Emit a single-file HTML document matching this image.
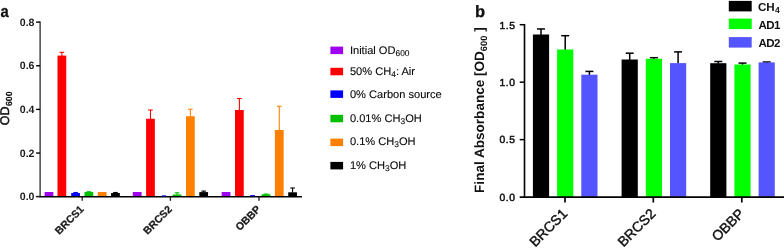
<!DOCTYPE html>
<html>
<head>
<meta charset="utf-8">
<title>Figure</title>
<style>
html,body{margin:0;padding:0;background:#ffffff;}
body{width:784px;height:249px;overflow:hidden;font-family:"Liberation Sans", sans-serif;}
svg{display:block;will-change:transform;}
svg text{font-family:"Liberation Sans", sans-serif;text-rendering:geometricPrecision;}
</style>
</head>
<body>
<svg width="784" height="249" viewBox="0 0 784 249">
<rect x="0" y="0" width="784" height="249" fill="#ffffff"/>
<rect x="44.60" y="192.00" width="8.75" height="4.60" fill="#a000f0"/>
<line x1="61.88" y1="56.10" x2="61.88" y2="52.30" stroke="#ff0000" stroke-width="1.1"/>
<line x1="59.58" y1="52.30" x2="64.17" y2="52.30" stroke="#ff0000" stroke-width="1.1"/>
<rect x="57.50" y="55.60" width="8.75" height="141.00" fill="#ff0000"/>
<line x1="75.58" y1="193.50" x2="75.58" y2="192.50" stroke="#0000ff" stroke-width="1.1"/>
<line x1="73.28" y1="192.50" x2="77.88" y2="192.50" stroke="#0000ff" stroke-width="1.1"/>
<rect x="71.20" y="193.00" width="8.75" height="3.60" fill="#0000ff"/>
<line x1="88.88" y1="192.50" x2="88.88" y2="191.70" stroke="#00c000" stroke-width="1.1"/>
<line x1="86.58" y1="191.70" x2="91.17" y2="191.70" stroke="#00c000" stroke-width="1.1"/>
<rect x="84.50" y="192.00" width="8.75" height="4.60" fill="#00c000"/>
<rect x="97.80" y="192.00" width="8.75" height="4.60" fill="#ff8000"/>
<line x1="115.47" y1="193.50" x2="115.47" y2="192.50" stroke="#000000" stroke-width="1.1"/>
<line x1="113.17" y1="192.50" x2="117.77" y2="192.50" stroke="#000000" stroke-width="1.1"/>
<rect x="111.10" y="193.00" width="8.75" height="3.60" fill="#000000"/>
<rect x="132.80" y="192.00" width="8.75" height="4.60" fill="#a000f0"/>
<line x1="150.48" y1="119.25" x2="150.48" y2="110.00" stroke="#ff0000" stroke-width="1.1"/>
<line x1="148.18" y1="110.00" x2="152.78" y2="110.00" stroke="#ff0000" stroke-width="1.1"/>
<rect x="146.10" y="118.75" width="8.75" height="77.85" fill="#ff0000"/>
<rect x="159.40" y="196.40" width="8.75" height="0.20" fill="#0000ff"/>
<line x1="177.08" y1="195.00" x2="177.08" y2="192.80" stroke="#00c000" stroke-width="1.1"/>
<line x1="174.78" y1="192.80" x2="179.38" y2="192.80" stroke="#00c000" stroke-width="1.1"/>
<rect x="172.70" y="194.50" width="8.75" height="2.10" fill="#00c000"/>
<line x1="190.38" y1="116.75" x2="190.38" y2="109.25" stroke="#ff8000" stroke-width="1.1"/>
<line x1="188.07" y1="109.25" x2="192.68" y2="109.25" stroke="#ff8000" stroke-width="1.1"/>
<rect x="186.00" y="116.25" width="8.75" height="80.35" fill="#ff8000"/>
<line x1="203.68" y1="192.60" x2="203.68" y2="191.10" stroke="#000000" stroke-width="1.1"/>
<line x1="201.38" y1="191.10" x2="205.98" y2="191.10" stroke="#000000" stroke-width="1.1"/>
<rect x="199.30" y="192.10" width="8.75" height="4.50" fill="#000000"/>
<rect x="221.70" y="192.00" width="8.75" height="4.60" fill="#a000f0"/>
<line x1="239.38" y1="110.50" x2="239.38" y2="98.50" stroke="#ff0000" stroke-width="1.1"/>
<line x1="237.07" y1="98.50" x2="241.68" y2="98.50" stroke="#ff0000" stroke-width="1.1"/>
<rect x="235.00" y="110.00" width="8.75" height="86.60" fill="#ff0000"/>
<rect x="248.30" y="196.40" width="8.75" height="0.20" fill="#0000ff"/>
<line x1="265.98" y1="194.80" x2="265.98" y2="194.00" stroke="#00c000" stroke-width="1.1"/>
<line x1="263.68" y1="194.00" x2="268.28" y2="194.00" stroke="#00c000" stroke-width="1.1"/>
<rect x="261.60" y="194.30" width="8.75" height="2.30" fill="#00c000"/>
<line x1="279.27" y1="130.50" x2="279.27" y2="106.25" stroke="#ff8000" stroke-width="1.1"/>
<line x1="276.97" y1="106.25" x2="281.57" y2="106.25" stroke="#ff8000" stroke-width="1.1"/>
<rect x="274.90" y="130.00" width="8.75" height="66.60" fill="#ff8000"/>
<line x1="292.57" y1="192.80" x2="292.57" y2="188.00" stroke="#000000" stroke-width="1.1"/>
<line x1="290.27" y1="188.00" x2="294.88" y2="188.00" stroke="#000000" stroke-width="1.1"/>
<rect x="288.20" y="192.30" width="8.75" height="4.30" fill="#000000"/>
<line x1="40.10" y1="21.50" x2="40.10" y2="196.60" stroke="#1a1a1a" stroke-width="1.2"/>
<line x1="39.50" y1="196.85" x2="302.00" y2="196.85" stroke="#000" stroke-width="1.5"/>
<rect x="161.70" y="195.30" width="4.40" height="1.10" fill="#1010ff"/>
<rect x="250.20" y="195.00" width="4.70" height="1.30" fill="#1010ff"/>
<line x1="36.10" y1="22.10" x2="40.10" y2="22.10" stroke="#000" stroke-width="1.4"/>
<text x="34.5" y="25.80" text-anchor="end" font-size="10.6" font-weight="bold" fill="#1a1a1a">0.8</text>
<line x1="36.10" y1="65.75" x2="40.10" y2="65.75" stroke="#000" stroke-width="1.4"/>
<text x="34.5" y="69.45" text-anchor="end" font-size="10.6" font-weight="bold" fill="#1a1a1a">0.6</text>
<line x1="36.10" y1="109.40" x2="40.10" y2="109.40" stroke="#000" stroke-width="1.4"/>
<text x="34.5" y="113.10" text-anchor="end" font-size="10.6" font-weight="bold" fill="#1a1a1a">0.4</text>
<line x1="36.10" y1="153.05" x2="40.10" y2="153.05" stroke="#000" stroke-width="1.4"/>
<text x="34.5" y="156.75" text-anchor="end" font-size="10.6" font-weight="bold" fill="#1a1a1a">0.2</text>
<line x1="35.90" y1="196.60" x2="40.10" y2="196.60" stroke="#1a1a1a" stroke-width="1.5"/>
<text x="34.5" y="200.40" text-anchor="end" font-size="10.6" font-weight="bold" fill="#1a1a1a">0.0</text>
<line x1="82.20" y1="196.60" x2="82.20" y2="200.80" stroke="#1a1a1a" stroke-width="1.3"/>
<text transform="translate(84.50,209.90) rotate(-45)" text-anchor="end" font-size="10.5" font-weight="bold" fill="#1a1a1a" stroke="#1a1a1a" stroke-width="0.25">BRCS1</text>
<line x1="170.40" y1="196.60" x2="170.40" y2="200.80" stroke="#1a1a1a" stroke-width="1.3"/>
<text transform="translate(172.70,209.90) rotate(-45)" text-anchor="end" font-size="10.5" font-weight="bold" fill="#1a1a1a" stroke="#1a1a1a" stroke-width="0.25">BRCS2</text>
<line x1="259.00" y1="196.60" x2="259.00" y2="200.80" stroke="#1a1a1a" stroke-width="1.3"/>
<text transform="translate(261.30,209.90) rotate(-45)" text-anchor="end" font-size="10.5" font-weight="bold" fill="#1a1a1a" stroke="#1a1a1a" stroke-width="0.25">OBBP</text>
<text transform="translate(9.2,125.3) rotate(-90)" font-size="12.5" fill="#111" stroke="#111" stroke-width="0.5">OD<tspan font-size="8.8" dy="2.9" dx="0.5" font-weight="bold" stroke-width="0.15">600</tspan></text>
<text transform="translate(0.4,16.9) scale(0.88,1)" font-size="16.8" font-weight="bold" fill="#111" stroke="#111" stroke-width="0.3">a</text>
<rect x="330.40" y="46.60" width="12.70" height="7.50" fill="#a000f0"/>
<text x="349.9" y="53.70" font-size="11.1" fill="#0a0a0a" stroke="#0a0a0a" stroke-width="0.12">Initial OD<tspan font-size="8.4" dy="2.0">600</tspan></text>
<rect x="330.40" y="67.80" width="12.70" height="7.50" fill="#ff0000"/>
<text x="349.9" y="74.70" font-size="11.1" fill="#0a0a0a" stroke="#0a0a0a" stroke-width="0.12">50% CH<tspan font-size="8.4" dy="2.0">4</tspan><tspan dy="-2.0">: Air</tspan></text>
<rect x="330.40" y="90.40" width="12.70" height="7.50" fill="#0000ff"/>
<text x="349.9" y="98.10" font-size="11.1" fill="#0a0a0a" stroke="#0a0a0a" stroke-width="0.12">0% Carbon source</text>
<rect x="330.40" y="114.80" width="12.70" height="7.50" fill="#00c000"/>
<text x="349.9" y="121.90" font-size="11.1" fill="#0a0a0a" stroke="#0a0a0a" stroke-width="0.12">0.01% CH<tspan font-size="8.4" dy="2.0">3</tspan><tspan dy="-2.0">OH</tspan></text>
<rect x="330.40" y="138.60" width="12.70" height="7.50" fill="#ff8000"/>
<text x="349.9" y="145.30" font-size="11.1" fill="#0a0a0a" stroke="#0a0a0a" stroke-width="0.12">0.1% CH<tspan font-size="8.4" dy="2.0">3</tspan><tspan dy="-2.0">OH</tspan></text>
<rect x="330.40" y="161.90" width="12.70" height="7.50" fill="#000000"/>
<text x="349.9" y="169.10" font-size="11.1" fill="#0a0a0a" stroke="#0a0a0a" stroke-width="0.12">1% CH<tspan font-size="8.4" dy="2.0">3</tspan><tspan dy="-2.0">OH</tspan></text>
<line x1="541.00" y1="35.00" x2="541.00" y2="28.95" stroke="#000" stroke-width="1.5"/>
<line x1="537.00" y1="28.95" x2="545.00" y2="28.95" stroke="#000" stroke-width="1.5"/>
<rect x="532.90" y="34.50" width="16.20" height="162.60" fill="#000000"/>
<line x1="565.20" y1="50.00" x2="565.20" y2="35.70" stroke="#000" stroke-width="1.5"/>
<line x1="561.20" y1="35.70" x2="569.20" y2="35.70" stroke="#000" stroke-width="1.5"/>
<rect x="557.10" y="49.50" width="16.20" height="147.60" fill="#00ff00"/>
<line x1="589.40" y1="75.20" x2="589.40" y2="71.40" stroke="#000" stroke-width="1.5"/>
<line x1="585.40" y1="71.40" x2="593.40" y2="71.40" stroke="#000" stroke-width="1.5"/>
<rect x="581.30" y="74.70" width="16.20" height="122.40" fill="#5555ff"/>
<line x1="629.70" y1="60.00" x2="629.70" y2="53.20" stroke="#000" stroke-width="1.5"/>
<line x1="625.70" y1="53.20" x2="633.70" y2="53.20" stroke="#000" stroke-width="1.5"/>
<rect x="621.60" y="59.50" width="16.20" height="137.60" fill="#000000"/>
<line x1="653.90" y1="59.25" x2="653.90" y2="57.70" stroke="#000" stroke-width="1.5"/>
<line x1="649.90" y1="57.70" x2="657.90" y2="57.70" stroke="#000" stroke-width="1.5"/>
<rect x="645.80" y="58.75" width="16.20" height="138.35" fill="#00ff00"/>
<line x1="678.10" y1="63.60" x2="678.10" y2="51.90" stroke="#000" stroke-width="1.5"/>
<line x1="674.10" y1="51.90" x2="682.10" y2="51.90" stroke="#000" stroke-width="1.5"/>
<rect x="670.00" y="63.10" width="16.20" height="134.00" fill="#5555ff"/>
<line x1="718.30" y1="63.70" x2="718.30" y2="61.50" stroke="#000" stroke-width="1.5"/>
<line x1="714.30" y1="61.50" x2="722.30" y2="61.50" stroke="#000" stroke-width="1.5"/>
<rect x="710.20" y="63.20" width="16.20" height="133.90" fill="#000000"/>
<line x1="742.50" y1="65.00" x2="742.50" y2="63.10" stroke="#000" stroke-width="1.5"/>
<line x1="738.50" y1="63.10" x2="746.50" y2="63.10" stroke="#000" stroke-width="1.5"/>
<rect x="734.40" y="64.50" width="16.20" height="132.60" fill="#00ff00"/>
<line x1="766.70" y1="62.90" x2="766.70" y2="62.00" stroke="#000" stroke-width="1.5"/>
<line x1="762.70" y1="62.00" x2="770.70" y2="62.00" stroke="#000" stroke-width="1.5"/>
<rect x="758.60" y="62.40" width="16.20" height="134.70" fill="#5555ff"/>
<line x1="524.50" y1="23.95" x2="524.50" y2="197.90" stroke="#000" stroke-width="1.6"/>
<line x1="519.70" y1="197.10" x2="784.00" y2="197.10" stroke="#000" stroke-width="1.7"/>
<line x1="519.70" y1="24.70" x2="524.50" y2="24.70" stroke="#000" stroke-width="1.5"/>
<text x="515.6" y="28.55" text-anchor="end" font-size="10.3" letter-spacing="0.6" fill="#111" stroke="#111" stroke-width="0.5">1.5</text>
<line x1="519.70" y1="82.17" x2="524.50" y2="82.17" stroke="#000" stroke-width="1.5"/>
<text x="515.6" y="86.02" text-anchor="end" font-size="10.3" letter-spacing="0.6" fill="#111" stroke="#111" stroke-width="0.5">1.0</text>
<line x1="519.70" y1="139.63" x2="524.50" y2="139.63" stroke="#000" stroke-width="1.5"/>
<text x="515.6" y="143.48" text-anchor="end" font-size="10.3" letter-spacing="0.6" fill="#111" stroke="#111" stroke-width="0.5">0.5</text>
<text x="515.6" y="200.95" text-anchor="end" font-size="10.3" letter-spacing="0.6" fill="#111" stroke="#111" stroke-width="0.5">0.0</text>
<line x1="565.00" y1="197.10" x2="565.00" y2="202.50" stroke="#000" stroke-width="1.7"/>
<text transform="translate(568.20,214.60) rotate(-45)" text-anchor="end" font-size="14" fill="#111" stroke="#111" stroke-width="0.4">BRCS1</text>
<line x1="653.30" y1="197.10" x2="653.30" y2="202.50" stroke="#000" stroke-width="1.7"/>
<text transform="translate(656.50,214.60) rotate(-45)" text-anchor="end" font-size="14" fill="#111" stroke="#111" stroke-width="0.4">BRCS2</text>
<line x1="741.80" y1="197.10" x2="741.80" y2="202.50" stroke="#000" stroke-width="1.7"/>
<text transform="translate(745.00,214.60) rotate(-45)" text-anchor="end" font-size="14" fill="#111" stroke="#111" stroke-width="0.4">OBBP</text>
<text transform="translate(484.4,192.9) rotate(-90)" font-size="13.55" font-weight="bold" fill="#111">Final Absorbance [OD<tspan font-size="9.3" dy="2.4">600</tspan><tspan dy="-2.4"> ]</tspan></text>
<text x="475.1" y="17.0" font-size="16.5" font-weight="bold" fill="#111" stroke="#111" stroke-width="0.3">b</text>
<rect x="728.80" y="0.90" width="22.90" height="10.50" fill="#000000"/>
<text x="758.0" y="10.50" font-size="11.6" letter-spacing="0" font-weight="bold" fill="#111">CH<tspan font-size="8.6" dy="2.4" dx="0.3">4</tspan></text>
<rect x="728.80" y="18.60" width="22.90" height="10.50" fill="#00ff00"/>
<text x="758.6" y="29.00" font-size="11.5" letter-spacing="-0.6" font-weight="bold" fill="#111">AD1</text>
<rect x="728.80" y="37.10" width="22.90" height="10.50" fill="#5555ff"/>
<text x="758.6" y="47.40" font-size="11.5" letter-spacing="-0.6" font-weight="bold" fill="#111">AD2</text>
</svg>
</body>
</html>
